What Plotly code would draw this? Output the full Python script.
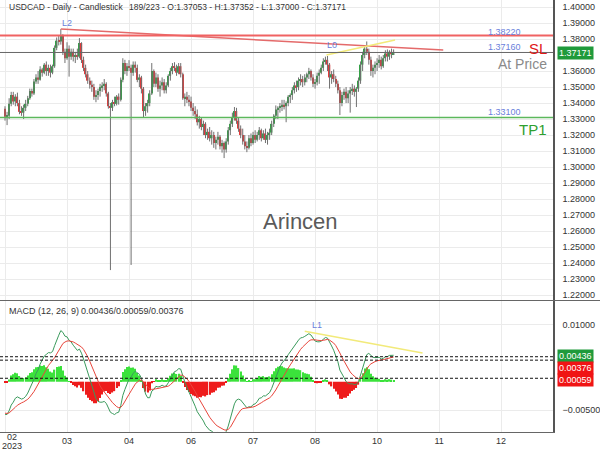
import plotly.graph_objects as go

# ---------------- data ----------------
title_left = "USDCAD - Daily - Candlestick"
title_right = "189/223 - O:1.37053 - H:1.37352 - L:1.37000 - C:1.37171"
watermark = "Arincen"

# 34 bars before the visible window (used only to warm up the MACD)
warmup_closes = [1.3650, 1.3670, 1.3630, 1.3600, 1.3640, 1.3620, 1.3590, 1.3590, 1.3560, 1.3610,
                 1.3570, 1.3550, 1.3570, 1.3620, 1.3530, 1.3630, 1.3410, 1.3400, 1.3420, 1.3425,
                 1.3385, 1.3390, 1.3400, 1.3410, 1.3475, 1.3470, 1.3385, 1.3370, 1.3380, 1.3390,
                 1.3360, 1.3320, 1.3400, 1.3330]

opens = [
    # Feb
    1.3365, 1.3315, 1.3320, 1.3395, 1.3450, 1.3410, 1.3440, 1.3400, 1.3345, 1.3340,
    1.3370, 1.3395, 1.3430, 1.3475, 1.3460, 1.3535, 1.3560, 1.3545, 1.3610, 1.3590,
    # Mar
    1.3640, 1.3600, 1.3620, 1.3590, 1.3630, 1.3745, 1.3790, 1.3785, 1.3825, 1.3720,
    1.3680, 1.3740, 1.3690, 1.3720, 1.3690, 1.3700, 1.3690, 1.3775, 1.3670, 1.3620,
    1.3580, 1.3540, 1.3515,
    # Apr
    1.3500, 1.3440, 1.3450, 1.3475, 1.3500, 1.3510, 1.3520, 1.3460, 1.3380, 1.3370,
    1.3405, 1.3395, 1.3440, 1.3420, 1.3545, 1.3650, 1.3600, 1.3630, 1.3620, 1.3590,
    # May
    1.3640, 1.3620, 1.3545, 1.3560, 1.3490, 1.3350, 1.3380, 1.3400, 1.3460, 1.3600,
    1.3520, 1.3560, 1.3490, 1.3510, 1.3530, 1.3480, 1.3510, 1.3570, 1.3600, 1.3630,
    1.3620, 1.3590, 1.3630,
    # Jun
    1.3580, 1.3430, 1.3440, 1.3420, 1.3410, 1.3370, 1.3350, 1.3330, 1.3280, 1.3300,
    1.3250, 1.3270, 1.3200, 1.3220, 1.3180, 1.3200, 1.3150, 1.3170, 1.3190, 1.3130,
    1.3150, 1.3110,
    # Jul
    1.3160, 1.3230, 1.3270, 1.3310, 1.3350, 1.3290, 1.3240, 1.3200, 1.3160, 1.3130,
    1.3120, 1.3180, 1.3150, 1.3200, 1.3170, 1.3200, 1.3230, 1.3180, 1.3210, 1.3170,
    1.3200,
    # Aug
    1.3215, 1.3270, 1.3320, 1.3360, 1.3370, 1.3380, 1.3390, 1.3380, 1.3400, 1.3440,
    1.3450, 1.3480, 1.3510, 1.3500, 1.3540, 1.3550, 1.3530, 1.3560, 1.3580, 1.3600,
    1.3560, 1.3520, 1.3530,
    # Sep
    1.3570, 1.3590, 1.3620, 1.3660, 1.3670, 1.3640, 1.3560, 1.3580, 1.3550, 1.3520,
    1.3480, 1.3400, 1.3450, 1.3470, 1.3430, 1.3460, 1.3480, 1.3490, 1.3470, 1.3490,
    1.3540,
    # Oct
    1.3640, 1.3700, 1.3740, 1.3720, 1.3670, 1.3600, 1.3620, 1.3640, 1.3650, 1.3670,
    1.3630, 1.3680, 1.3710, 1.3690, 1.3720, 1.37053,
]
highs = [
    1.3380, 1.3345, 1.3430, 1.3470, 1.3470, 1.3455, 1.3465, 1.3420, 1.3380, 1.3390,
    1.3420, 1.3445, 1.3490, 1.3490, 1.3550, 1.3580, 1.3600, 1.3630, 1.3620, 1.3650,
    1.3660, 1.3640, 1.3640, 1.3640, 1.3760, 1.3810, 1.3820, 1.3862, 1.3830, 1.3740,
    1.3780, 1.3760, 1.3740, 1.3740, 1.3720, 1.3740, 1.3806, 1.3780, 1.3690, 1.3640,
    1.3600, 1.3560, 1.3540,
    1.3520, 1.3480, 1.3490, 1.3520, 1.3530, 1.3550, 1.3530, 1.3470, 1.3400, 1.3420,
    1.3440, 1.3450, 1.3460, 1.3560, 1.3680, 1.3670, 1.3650, 1.3668, 1.3640, 1.3660,
    1.3660, 1.3640, 1.3580, 1.3570, 1.3500, 1.3400, 1.3420, 1.3480, 1.3650, 1.3610,
    1.3590, 1.3580, 1.3540, 1.3560, 1.3550, 1.3530, 1.3580, 1.3620, 1.3650, 1.3655,
    1.3640, 1.3650, 1.3650,
    1.3590, 1.3460, 1.3470, 1.3450, 1.3440, 1.3400, 1.3380, 1.3360, 1.3320, 1.3310,
    1.3290, 1.3280, 1.3240, 1.3250, 1.3230, 1.3220, 1.3190, 1.3220, 1.3200, 1.3170,
    1.3160, 1.3180,
    1.3250, 1.3290, 1.3340, 1.3375, 1.3370, 1.3310, 1.3260, 1.3240, 1.3200, 1.3160,
    1.3200, 1.3210, 1.3220, 1.3230, 1.3220, 1.3250, 1.3240, 1.3230, 1.3240, 1.3220,
    1.3240,
    1.3290, 1.3330, 1.3385, 1.3380, 1.3400, 1.3420, 1.3420, 1.3410, 1.3450, 1.3460,
    1.3500, 1.3530, 1.3540, 1.3560, 1.3580, 1.3570, 1.3580, 1.3590, 1.3620, 1.3610,
    1.3580, 1.3550, 1.3590,
    1.3610, 1.3640, 1.3680, 1.3690, 1.3694, 1.3650, 1.3600, 1.3610, 1.3570, 1.3540,
    1.3500, 1.3470, 1.3490, 1.3500, 1.3480, 1.3500, 1.3520, 1.3510, 1.3500, 1.3560,
    1.3660,
    1.3720, 1.3760, 1.3785, 1.3740, 1.3690, 1.3640, 1.3660, 1.3680, 1.3700, 1.3690,
    1.3700, 1.3730, 1.3735, 1.3730, 1.3740, 1.37352,
]
lows = [
    1.3290, 1.3262, 1.3300, 1.3380, 1.3390, 1.3380, 1.3380, 1.3330, 1.3320, 1.3300,
    1.3350, 1.3380, 1.3420, 1.3440, 1.3450, 1.3520, 1.3520, 1.3540, 1.3565, 1.3580,
    1.3570, 1.3570, 1.3560, 1.3580, 1.3620, 1.3730, 1.3760, 1.3765, 1.3700, 1.3650,
    1.3670, 1.3565, 1.3670, 1.3660, 1.3650, 1.3670, 1.3680, 1.3650, 1.3600, 1.3560,
    1.3520, 1.3490, 1.3470,
    1.3420, 1.3405, 1.3420, 1.3440, 1.3470, 1.3480, 1.3440, 1.3365, 1.2356, 1.3350,
    1.3380, 1.3385, 1.3390, 1.3410, 1.3530, 1.3580, 1.3570, 1.3600, 1.2388, 1.3570,
    1.3590, 1.3530, 1.3500, 1.3460, 1.3310, 1.3320, 1.3340, 1.3380, 1.3450, 1.3500,
    1.3500, 1.3470, 1.3440, 1.3480, 1.3460, 1.3460, 1.3500, 1.3540, 1.3580, 1.3600,
    1.3570, 1.3580, 1.3560,
    1.3420, 1.3380, 1.3400, 1.3380, 1.3350, 1.3320, 1.3300, 1.3260, 1.3240, 1.3230,
    1.3200, 1.3180, 1.3170, 1.3160, 1.3140, 1.3120, 1.3110, 1.3140, 1.3110, 1.3090,
    1.3056, 1.3090,
    1.3140, 1.3200, 1.3250, 1.3290, 1.3270, 1.3220, 1.3180, 1.3140, 1.3110, 1.3093,
    1.3110, 1.3130, 1.3140, 1.3150, 1.3160, 1.3170, 1.3160, 1.3170, 1.3150, 1.3140,
    1.3170,
    1.3200, 1.3250, 1.3300, 1.3300, 1.3340, 1.3350, 1.3360, 1.3280, 1.3380, 1.3400,
    1.3420, 1.3460, 1.3470, 1.3480, 1.3510, 1.3500, 1.3510, 1.3530, 1.3550, 1.3540,
    1.3500, 1.3490, 1.3510,
    1.3520, 1.3580, 1.3600, 1.3640, 1.3600, 1.3490, 1.3520, 1.3530, 1.3500, 1.3460,
    1.3325, 1.3380, 1.3420, 1.3400, 1.3400, 1.3340, 1.3450, 1.3440, 1.3375, 1.3470,
    1.3520,
    1.3600, 1.3680, 1.3700, 1.3640, 1.3570, 1.3560, 1.3580, 1.3600, 1.3620, 1.3610,
    1.3620, 1.3660, 1.3660, 1.3670, 1.3680, 1.37000,
]
closes = [
    1.3315, 1.3320, 1.3395, 1.3450, 1.3410, 1.3440, 1.3400, 1.3345, 1.3340, 1.3370,
    1.3395, 1.3430, 1.3475, 1.3460, 1.3535, 1.3560, 1.3545, 1.3610, 1.3590, 1.3640,
    1.3600, 1.3620, 1.3590, 1.3630, 1.3745, 1.3790, 1.3785, 1.3825, 1.3720, 1.3680,
    1.3740, 1.3690, 1.3720, 1.3690, 1.3700, 1.3690, 1.3775, 1.3670, 1.3620, 1.3580,
    1.3540, 1.3515, 1.3500,
    1.3440, 1.3450, 1.3475, 1.3500, 1.3510, 1.3520, 1.3460, 1.3380, 1.3370, 1.3405,
    1.3395, 1.3440, 1.3420, 1.3545, 1.3650, 1.3600, 1.3630, 1.3620, 1.3590, 1.3640,
    1.3620, 1.3545, 1.3560, 1.3490, 1.3350, 1.3380, 1.3400, 1.3460, 1.3600, 1.3520,
    1.3560, 1.3490, 1.3510, 1.3530, 1.3480, 1.3510, 1.3570, 1.3600, 1.3630, 1.3620,
    1.3590, 1.3630, 1.3580,
    1.3430, 1.3440, 1.3420, 1.3410, 1.3370, 1.3350, 1.3330, 1.3280, 1.3300, 1.3250,
    1.3270, 1.3200, 1.3220, 1.3180, 1.3200, 1.3150, 1.3170, 1.3190, 1.3130, 1.3150,
    1.3110, 1.3160,
    1.3230, 1.3270, 1.3310, 1.3350, 1.3290, 1.3240, 1.3200, 1.3160, 1.3130, 1.3120,
    1.3180, 1.3150, 1.3200, 1.3170, 1.3200, 1.3230, 1.3180, 1.3210, 1.3170, 1.3200,
    1.3215,
    1.3270, 1.3320, 1.3360, 1.3370, 1.3380, 1.3390, 1.3380, 1.3400, 1.3440, 1.3450,
    1.3480, 1.3510, 1.3500, 1.3540, 1.3550, 1.3530, 1.3560, 1.3580, 1.3600, 1.3560,
    1.3520, 1.3530, 1.3570,
    1.3590, 1.3620, 1.3660, 1.3670, 1.3640, 1.3560, 1.3580, 1.3550, 1.3520, 1.3480,
    1.3400, 1.3450, 1.3470, 1.3430, 1.3460, 1.3480, 1.3490, 1.3470, 1.3490, 1.3540,
    1.3640,
    1.3700, 1.3740, 1.3720, 1.3670, 1.3600, 1.3620, 1.3640, 1.3650, 1.3670, 1.3630,
    1.3680, 1.3710, 1.3690, 1.3720, 1.3705, 1.37171,
]

tick_idx = [0, 30, 60, 90, 120, 150, 180, 210, 240]
tick_labels = ["", "03", "04", "06", "07", "08", "10", "11", "12"]
first_tick_label = "02"
year_label = "2023"

# price-axis labels (1.37000 is hidden behind the last-price box in the reference)
price_ticks = [1.22, 1.23, 1.24, 1.25, 1.26, 1.27, 1.28, 1.29, 1.30, 1.31, 1.32, 1.33,
               1.34, 1.35, 1.36, 1.38, 1.39, 1.40]
# MACD-axis labels (0.00500 and 0.00000 are hidden behind the value boxes)
macd_ticks = [-0.005, 0.01]

level_sl = 1.38220
level_at = 1.37160
level_tp = 1.33100
last_price = 1.37171

trend_red_x = [27, 212]
trend_red_y = [1.3862, 1.3731]
trend_yel_x = [155.5, 188.7]
trend_yel_y = [1.3700, 1.3794]
macd_trend_x = [145, 202]
macd_trend_y = [0.0088, 0.0050]

macd_params = (12, 26, 9)
macd_last = 0.00436
signal_last = 0.00376
hist_last = 0.00059

# ---------------- helpers ----------------
W_PLOT, H_PLOT = 553.0, 432.0


def px(x):
    return x / W_PLOT


def py(y):
    return (H_PLOT - y) / H_PLOT


def ema(vals, n):
    k = 2.0 / (n + 1)
    out = [vals[0]]
    for v in vals[1:]:
        out.append(out[-1] + k * (v - out[-1]))
    return out


allc = warmup_closes + closes
e12 = ema(allc, macd_params[0])
e26 = ema(allc, macd_params[1])
macd_all = [a - b for a, b in zip(e12, e26)]
sig_all = ema(macd_all, macd_params[2])
nw = len(warmup_closes)
macd = macd_all[nw:]
signal = sig_all[nw:]
hist = [m - s for m, s in zip(macd, signal)]

n = len(closes)
xs = list(range(n))

GREEN = "#35a047"
RED = "#e23b3b"

wx, wy = [], []
for i in xs:
    wx += [i, i, None]
    wy += [lows[i], highs[i], None]

body_base = [min(o, c) for o, c in zip(opens, closes)]
body_h = [max(abs(c - o), 0.00012) for o, c in zip(opens, closes)]
body_col = [GREEN if c >= o else RED for o, c in zip(opens, closes)]

fig = go.Figure()
fig.add_trace(go.Scatter(x=wx, y=wy, mode="lines", line=dict(color="#707070", width=1),
                         hoverinfo="skip", xaxis="x", yaxis="y"))
fig.add_trace(go.Bar(x=xs, y=body_h, base=body_base, marker=dict(color=body_col, line=dict(width=0)),
                     width=0.7, xaxis="x", yaxis="y"))
fig.add_trace(go.Scatter(x=trend_red_x, y=trend_red_y, mode="lines",
                         line=dict(color="#e46a6a", width=1.5), xaxis="x", yaxis="y"))
fig.add_trace(go.Scatter(x=trend_yel_x, y=trend_yel_y, mode="lines",
                         line=dict(color="#f2ea7a", width=1.5), xaxis="x", yaxis="y"))

# MACD panel
hist_col = ["#3be23b" if h >= 0 else "#ee1c1c" for h in hist]
fig.add_trace(go.Bar(x=xs, y=hist, marker=dict(color=hist_col, line=dict(width=0)), width=0.6,
                     xaxis="x2", yaxis="y2"))
fig.add_trace(go.Scatter(x=xs, y=macd, mode="lines", line=dict(color="#3a9a5c", width=1),
                         xaxis="x2", yaxis="y2"))
fig.add_trace(go.Scatter(x=xs, y=signal, mode="lines", line=dict(color="#e8463c", width=1),
                         xaxis="x2", yaxis="y2"))
fig.add_trace(go.Scatter(x=macd_trend_x, y=macd_trend_y, mode="lines",
                         line=dict(color="#f2ea7a", width=1.5), xaxis="x2", yaxis="y2"))

xr = [-2.42, 265.1]
FONT = "Liberation Sans, Arial, sans-serif"
GRID = "#ebebeb"

fig.update_layout(
    width=600, height=450, margin=dict(l=0, r=47, t=0, b=18),
    paper_bgcolor="white", plot_bgcolor="white", showlegend=False,
    barmode="overlay", font=dict(family=FONT, size=9, color="#333"),
    xaxis=dict(domain=[0, 1], range=xr, anchor="y", tickvals=tick_idx, showticklabels=False,
               showgrid=True, gridcolor=GRID, zeroline=False, fixedrange=True),
    xaxis2=dict(domain=[0, 1], range=xr, anchor="y2", tickvals=tick_idx, ticktext=tick_labels,
                showgrid=True, gridcolor=GRID, zeroline=False, showline=True, linecolor="#666",
                linewidth=1, tickfont=dict(size=9, color="#333"), ticks="", ticklabelstandoff=0),
    yaxis=dict(domain=[(H_PLOT - 300) / H_PLOT, 1], range=[1.2169, 1.4044], side="right",
               tickvals=price_ticks, tickformat=".5f", showgrid=True, gridcolor=GRID,
               zeroline=False, showline=True, linecolor="#555", linewidth=1.5,
               tickfont=dict(size=9, color="#333"), ticks="", ticklabelstandoff=6),
    yaxis2=dict(domain=[0, (H_PLOT - 301) / H_PLOT], range=[-0.0088, 0.0141], side="right",
                tickvals=macd_ticks, tickformat=".5f", showgrid=True, gridcolor=GRID,
                zeroline=False, showline=True, linecolor="#555", linewidth=1.5,
                tickfont=dict(size=9, color="#333"), ticks="", ticklabelstandoff=6),
)

shapes = [
    dict(type="line", xref="paper", yref="y", x0=0, x1=1, y0=level_sl, y1=level_sl,
         line=dict(color="#f06262", width=2)),
    dict(type="line", xref="paper", yref="y", x0=0, x1=1, y0=level_at, y1=level_at,
         line=dict(color="#666666", width=1)),
    dict(type="line", xref="paper", yref="y", x0=0, x1=1, y0=level_tp, y1=level_tp,
         line=dict(color="#5cb85c", width=1.5)),
    dict(type="line", xref="paper", yref="paper", x0=0, x1=600 / W_PLOT, y0=py(300.5), y1=py(300.5),
         line=dict(color="#666666", width=1)),
]
for lv in (macd_last, signal_last, hist_last):
    shapes.append(dict(type="line", xref="paper", yref="y2", x0=0, x1=1, y0=lv, y1=lv,
                       line=dict(color="#111111", width=1, dash="3px,2px")))
fig.update_layout(shapes=shapes)

LBL = "#6a7fdc"
ann = [
    dict(x=px(7), y=py(7), text=title_left, xanchor="left", font=dict(size=8.5, color="#333")),
    dict(x=px(127), y=py(7), text=title_right, xanchor="left", font=dict(size=8.5, color="#333")),
    dict(x=px(300), y=py(222), text=watermark, font=dict(size=22, color="#5a5a5a")),
    dict(x=px(67), y=py(23), text="L2", font=dict(size=9, color=LBL)),
    dict(x=px(332), y=py(45), text="L0", font=dict(size=9, color=LBL)),
    dict(x=px(317), y=py(325), text="L1", font=dict(size=9, color=LBL)),
    dict(x=px(504), y=py(32), text=f"{level_sl:.5f}", font=dict(size=9, color=LBL)),
    dict(x=px(504), y=py(47), text=f"{level_at:.5f}", font=dict(size=9, color=LBL)),
    dict(x=px(504), y=py(112.5), text=f"{level_tp:.5f}", font=dict(size=9, color=LBL)),
    dict(x=px(549), y=py(48), text="SL", xanchor="right", font=dict(size=15, color="#e01818")),
    dict(x=px(549), y=py(64), text="At Price", xanchor="right", font=dict(size=14, color="#8a8a8a")),
    dict(x=px(549), y=py(129), text="TP1", xanchor="right", font=dict(size=15, color="#2ea02e")),
    dict(x=px(7), y=py(311), text="MACD (%d, %d, %d)" % macd_params, xanchor="left",
         font=dict(size=9, color="#333")),
    dict(x=px(79), y=py(311), text=f"{macd_last:.5f}/{hist_last:.5f}/{signal_last:.5f}",
         xanchor="left", font=dict(size=9, color="#333")),
    dict(x=px(12), y=py(437.5), text=first_tick_label, font=dict(size=9, color="#333")),
    dict(x=px(12), y=py(445.5), text=year_label, font=dict(size=9, color="#333")),
    dict(x=px(557), y=py(52.5), text=f"{last_price:.5f}", xanchor="left", bgcolor="#1f9a3b",
         borderpad=1, font=dict(size=9, color="white")),
    dict(x=px(557), y=py(356), text=f"{macd_last:.5f}", xanchor="left", bgcolor="#1f9a3b",
         borderpad=1, font=dict(size=9, color="white")),
    dict(x=px(557), y=py(368), text=f"{signal_last:.5f}", xanchor="left", bgcolor="#f01414",
         borderpad=1, font=dict(size=9, color="white")),
    dict(x=px(557), y=py(379.5), text=f"{hist_last:.5f}", xanchor="left", bgcolor="#f01414",
         borderpad=1, font=dict(size=9, color="white")),
]
for a in ann:
    a.setdefault("xanchor", "center")
    a.update(xref="paper", yref="paper", yanchor="middle", showarrow=False)
fig.update_layout(annotations=ann)

fig.write_html("out.html")
